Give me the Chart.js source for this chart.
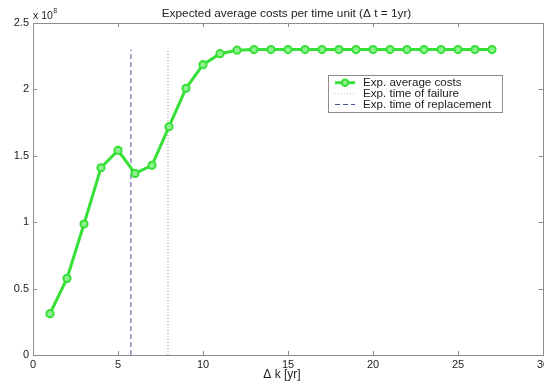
<!DOCTYPE html>
<html><head><meta charset="utf-8">
<script src="https://cdn.jsdelivr.net/npm/chart.js@4/dist/chart.umd.min.js"></script>
<style>html,body{margin:0;padding:0;background:#fff}</style>
</head><body>
<canvas id="c" width="544" height="383"></canvas>
<script>
const titleText = 'Expected average costs per time unit (\u0394 t = 1yr)';
const xAxisTitle = '\u0394 k [yr]';
const years = [1,2,3,4,5,6,7,8,9,10,11,12,13,14,15,16,17,18,19,20,21,22,23,24,25,26,27];
const costs = [0.311,0.577,0.986,1.410,1.541,1.367,1.428,1.719,2.008,2.186,2.269,2.295,2.30,2.30,2.30,2.30,2.30,2.30,2.30,2.30,2.30,2.30,2.30,2.30,2.30,2.30,2.30];
const failureTime = [7.94, 7.94];
const replacementTime = [5.76, 5.76];
const markerSpan = [0, 2.3];
const legendLabels = ['Exp. average costs','Exp. time of failure','Exp. time of replacement'];
const xTickValues = [0,5,10,15,20,25,30];
const yTickValues = [0,0.5,1,1.5,2,2.5];

const FONT = '"Liberation Sans", Arial, sans-serif';
const GREEN = '#36e036';
const FRAME = '#8c8c8c';
const TEXT = '#222';

const decor = {
  id: 'decor',
  afterDraw(chart) {
    const ctx = chart.ctx;
    const {left, right, top, bottom} = chart.chartArea;
    const xs = chart.scales.x, ys = chart.scales.y;
    ctx.save();
    ctx.strokeStyle = FRAME;
    ctx.lineWidth = 1;
    ctx.strokeRect(Math.round(left) + 0.5, Math.round(top) + 0.5, Math.round(right - left), Math.round(bottom - top));
    ctx.beginPath();
    xTickValues.forEach(v => {
      const p = Math.round(xs.getPixelForValue(v)) + 0.5;
      ctx.moveTo(p, bottom); ctx.lineTo(p, bottom - 4);
      ctx.moveTo(p, top); ctx.lineTo(p, top + 4);
    });
    yTickValues.forEach(v => {
      const p = Math.round(ys.getPixelForValue(v)) + 0.5;
      ctx.moveTo(left, p); ctx.lineTo(left + 4, p);
      ctx.moveTo(right, p); ctx.lineTo(right - 4, p);
    });
    ctx.stroke();

    // title
    ctx.fillStyle = TEXT;
    ctx.font = '11.8px ' + FONT;
    ctx.textAlign = 'center';
    ctx.textBaseline = 'middle';
    ctx.fillText(titleText, 286.5, 13.5);

    // x axis title
    ctx.font = '12px ' + FONT;
    ctx.fillText(xAxisTitle, 282, 374.5);

    // exponent
    ctx.textAlign = 'left';
    ctx.textBaseline = 'alphabetic';
    ctx.font = '10.5px ' + FONT;
    ctx.fillText('x 10', left, 18.5);
    const w = ctx.measureText('x 10').width;
    ctx.font = '7px ' + FONT;
    ctx.fillText('8', left + w + 0.5, 13);

    // legend
    const lx = 328.5, ly = 75.5, lw = 174, lh = 37;
    ctx.fillStyle = '#fff';
    ctx.fillRect(lx, ly, lw, lh);
    ctx.strokeStyle = FRAME;
    ctx.strokeRect(lx, ly, lw, lh);
    const rows = [82.7, 93.7, 104.5];
    const ds = chart.data.datasets;
    ctx.font = '11.6px ' + FONT;
    ctx.textBaseline = 'middle';
    rows.forEach((y, i) => {
      const d = ds[i];
      ctx.save();
      ctx.strokeStyle = d.borderColor;
      ctx.lineWidth = i === 0 ? d.borderWidth : 1;
      ctx.setLineDash(d.borderDash || []);
      ctx.beginPath();
      ctx.moveTo(335, y); ctx.lineTo(355, y);
      ctx.stroke();
      ctx.restore();
      if (i === 0) {
        ctx.beginPath();
        ctx.arc(345, y, 3.2, 0, Math.PI * 2);
        ctx.fillStyle = d.pointBackgroundColor;
        ctx.fill();
        ctx.lineWidth = 2;
        ctx.strokeStyle = d.pointBorderColor;
        ctx.stroke();
      }
      ctx.fillStyle = TEXT;
      ctx.fillText(legendLabels[i], 363, y + 0.5);
    });
    ctx.restore();
  }
};

new Chart(document.getElementById('c'), {
  type: 'line',
  data: {
    datasets: [
      {
        label: legendLabels[0],
        data: years.map((x, i) => ({x, y: costs[i]})),
        borderColor: GREEN,
        borderWidth: 3,
        pointRadius: 3.6,
        pointBorderWidth: 2,
        pointBackgroundColor: '#8ef08e',
        pointBorderColor: GREEN,
        tension: 0,
        order: 0
      },
      {
        label: legendLabels[1],
        data: failureTime.map((x, i) => ({x, y: markerSpan[i]})),
        borderColor: '#c4c4c4',
        borderWidth: 2,
        borderDash: [1, 2],
        pointRadius: 0,
        order: 2
      },
      {
        label: legendLabels[2],
        data: replacementTime.map((x, i) => ({x, y: markerSpan[i]})),
        borderColor: '#4a5a98',
        borderWidth: 1,
        borderDash: [5, 3],
        pointRadius: 0,
        order: 1
      }
    ]
  },
  options: {
    responsive: false,
    animation: false,
    layout: { autoPadding: false, padding: { left: 0, right: 1, top: 23, bottom: 0 } },
    plugins: { legend: { display: false }, tooltip: { enabled: false }, title: { display: false } },
    scales: {
      x: {
        type: 'linear', min: 0, max: 30,
        afterBuildTicks: s => { s.ticks = xTickValues.map(v => ({value: v})); },
        ticks: { color: TEXT, font: { size: 11, family: FONT }, padding: 3, maxRotation: 0, autoSkip: false, callback: v => String(v) },
        grid: { display: false, drawTicks: false },
        border: { display: false },
        afterFit: s => { s.height = 28; s.paddingLeft = 0; s.paddingRight = 0; }
      },
      y: {
        min: 0, max: 2.5,
        afterBuildTicks: s => { s.ticks = yTickValues.map(v => ({value: v})); },
        ticks: { color: TEXT, font: { size: 11, family: FONT }, padding: 4, callback: v => String(v) },
        grid: { display: false, drawTicks: false },
        border: { display: false },
        afterFit: s => { s.width = 33; s.paddingTop = 0; s.paddingBottom = 0; }
      }
    }
  },
  plugins: [decor]
});
</script>
</body></html>
